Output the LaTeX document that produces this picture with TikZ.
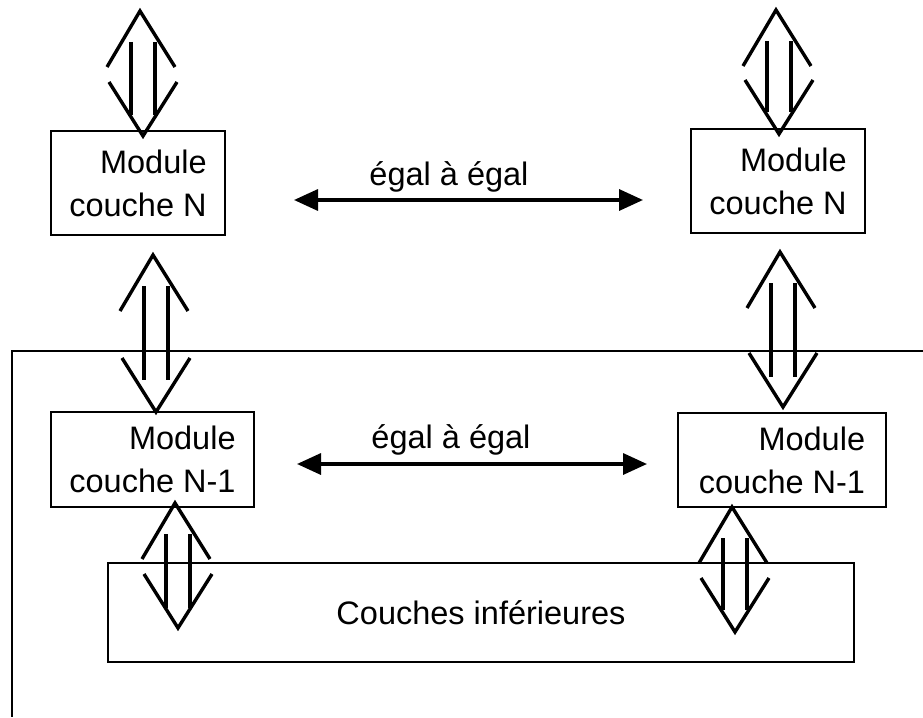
\documentclass[tikz,border=0pt]{standalone}
\usepackage{fontspec}
\setmainfont{Liberation Sans}
\usepackage{tikz}
\usetikzlibrary{arrows.meta}

% double fleche : x du sommet, y du sommet, y du bas, retrait des traits
\newcommand{\echange}[4]{%
  \draw[fleche] (#1,#2) ++(-33,56) -- (#1,#2) -- ++(35,56);
  \draw[fleche] (#1+3,#3) ++(-34,-54) -- (#1+3,#3) -- ++(34,-54);
  \draw[fleche] (#1-9,#2+31) -- (#1-9,#3-#4);
  \draw[fleche] (#1+15,#2+31) -- (#1+15,#3-#4);
}

\begin{document}
\begin{tikzpicture}[x=1pt,y=-1pt,
    font=\fontsize{32.5}{43}\selectfont,
    module/.style={draw,line width=2.9pt,align=right,inner sep=0pt},
    fleche/.style={line width=3.4pt,line join=miter},
    pair/.style={line width=3.4pt,{Triangle[length=24pt,width=21pt]}-{Triangle[length=24pt,width=21pt]}}]
  \useasboundingbox (0,0) rectangle (923,717);

  % Couche N
  \node[module,minimum width=174pt,minimum height=104pt] (nl) at (138,183) {Module\\couche N};
  \node[module,minimum width=174pt,minimum height=104pt] (nr) at (778,181) {Module\\couche N};
  \coordinate (pl) at (294,200);
  \coordinate (pr) at (643,200);
  \draw[pair] (pl) -- (pr);
  \node[anchor=base] (el) at (449,185) {égal à égal};

  % Cadre du systeme
  \draw[line width=2.9pt] (923,351) -- (12,351) -- (12,717);

  % Couche N-1
  \node[module,minimum width=203pt,minimum height=95pt] (ml) at (152.5,459.5) {Module\\couche N-1};
  \node[module,minimum width=208pt,minimum height=94pt] (mr) at (782,460) {Module\\couche N-1};
  \coordinate (ql) at (297,464);
  \coordinate (qr) at (647,464);
  \draw[pair] (ql) -- (qr);
  \node[anchor=base] (em) at (451,448) {égal à égal};

  % Couches inferieures
  \node[module,minimum width=746pt,minimum height=99pt] (ci) at (481,612.5) {Couches inférieures};

  % Doubles fleches
  \echange{140}{11}{136}{21}
  \echange{776}{10}{134}{22}
  \echange{153}{255}{412}{32}
  \echange{780}{252}{407}{30}
  \echange{175}{503}{628}{20}
  \echange{732}{507}{632}{22}
\end{tikzpicture}
\end{document}
